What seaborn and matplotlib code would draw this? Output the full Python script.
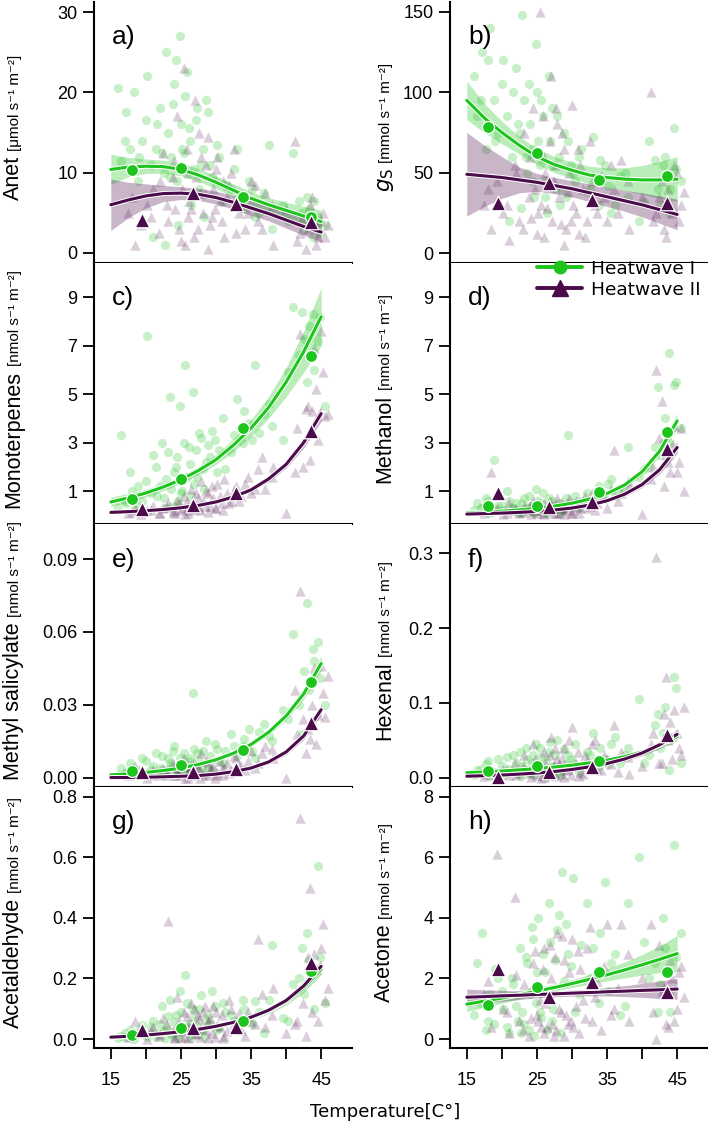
import matplotlib
matplotlib.use("Agg")
import matplotlib.pyplot as plt
import matplotlib.patheffects as pe
from matplotlib.lines import Line2D
import seaborn as sns

# leaf temperatures of the individual measurements (two batches per heatwave)
temp_hw1 = [16.0, 16.5, 17.2, 17.8, 18.3, 18.9, 19.5, 20.2, 21.0, 21.6, 22.3, 22.9, 23.4, 23.9, 24.3, 24.8, 25.2, 25.6, 26.1, 26.7,
            27.3, 27.9, 28.6, 29.4, 30.2, 31.0, 32.1, 33.0, 33.8, 34.7, 35.6, 36.8, 38.0, 39.5, 41.0, 42.2, 43.0, 43.8, 44.6, 45.5]
temp_hw2 = [17.5, 18.5, 19.3, 20.2, 21.0, 21.8, 22.5, 23.2, 23.8, 24.4, 25.0, 25.5, 26.0, 26.5, 27.0, 27.4, 27.9, 28.4, 28.9, 29.4,
            30.0, 30.6, 31.2, 31.9, 32.6, 33.3, 34.2, 35.0, 36.0, 37.0, 38.2, 40.0, 41.2, 42.0, 42.8, 43.4, 44.0, 44.6, 45.2, 46.0]
temp_hw1_b = [17.0, 18.0, 19.0, 20.0, 20.8, 21.4, 22.0, 22.6, 23.1, 23.6, 24.0, 24.5, 25.0, 25.4, 25.8, 26.3, 26.8, 27.1, 27.6, 28.1,
              28.8, 29.2, 29.8, 30.5, 31.3, 32.5, 34.0, 35.2, 36.2, 37.5, 40.2, 41.8, 42.6, 43.3, 44.0, 44.9, 22.7, 24.6, 26.4, 28.3]
temp_hw2_b = [18.0, 20.8, 22.0, 23.0, 24.0, 24.7, 25.2, 25.8, 26.2, 26.8, 27.2, 27.6, 28.1, 28.6, 29.1, 29.6, 30.2, 30.8, 31.5, 32.2,
              32.9, 33.6, 34.6, 35.5, 36.5, 38.0, 41.5, 42.4, 43.1, 43.7, 44.3, 45.0, 45.6, 26.0, 27.7, 28.8, 29.9, 31.0, 25.6, 24.2]

# measured values
anet_hw1 = [20.5, 11.5, 17.5, 13.0, 20.0, 9.0, 14.0, 22.0, 2.0, 16.0, 12.5, 25.0, 9.5, 18.5, 24.0, 27.0, 13.0, 19.5, 15.5, 7.0,
            18.0, 11.0, 19.0, 9.5, 13.5, 6.5, 8.0, 13.0, 5.5, 9.0, 4.5, 7.5, 3.0, 6.0, 12.5, 5.0, 7.0, 2.0, 4.5, 3.5]
anet_hw1_b = [14.0, 10.5, 12.0, 16.5, 11.0, 13.0, 18.0, 10.0, 15.0, 12.0, 21.0, 9.0, 16.0, 12.5, 22.5, 14.0, 10.5, 16.5, 8.0, 13.0,
              17.5, 11.0, 9.0, 12.0, 8.5, 10.5, 6.0, 8.0, 5.0, 13.5, 4.0, 6.5, 3.0, 5.5, 6.5, 2.5, 1.0, 3.5, 6.0, 4.5]
anet_hw2 = [5.0, 1.0, 3.5, 6.0, 8.0, 2.5, 12.5, 4.0, 9.5, 17.0, 1.5, 23.0, 10.0, 5.5, 19.0, 3.0, 12.0, 7.5, 14.5, 4.5,
            10.5, 6.5, 2.0, 8.5, 13.0, 5.0, 3.0, 9.0, 4.0, 7.5, 1.0, 5.5, 14.0, 2.5, 0.5, 6.0, 4.0, 2.0, 5.0, 3.5]
anet_hw2_b = [7.0, 4.5, 9.0, 6.0, 11.5, 3.0, 8.0, 13.0, 6.5, 2.0, 9.5, 15.0, 5.0, 11.0, 3.5, 8.0, 12.0, 4.0, 7.0, 10.0,
              2.5, 6.5, 5.0, 8.5, 3.0, 6.0, 1.5, 4.5, 3.0, 7.0, 1.0, 4.0, 2.0, 4.5, 7.5, 0.5, 5.5, 9.0, 1.0, 5.5]
gs_hw1 = [110, 85, 125, 65, 140, 95, 75, 120, 20, 100, 80, 148, 60, 105, 45, 130, 70, 95, 35, 110,
          55, 85, 40, 70, 50, 60, 38, 72, 30, 55, 25, 48, 35, 20, 70, 40, 55, 25, 78, 45]
gs_hw1_b = [95, 120, 70, 105, 85, 60, 115, 75, 95, 50, 80, 65, 100, 55, 85, 45, 70, 90, 40, 60,
            75, 35, 55, 45, 65, 40, 58, 42, 30, 50, 32, 58, 30, 60, 40, 52, 28, 35, 25, 30]
gs_hw2 = [30, 15, 45, 25, 8, 55, 20, 75, 35, 90, 12, 150, 60, 28, 110, 45, 80, 18, 65, 38,
          92, 25, 55, 10, 70, 30, 48, 20, 40, 58, 15, 35, 100, 25, 45, 10, 30, 55, 20, 38]
gs_hw2_b = [40, 30, 50, 15, 60, 40, 25, 85, 50, 70, 20, 55, 35, 75, 15, 50, 30, 65, 40, 20,
            45, 25, 35, 55, 25, 45, 20, 35, 15, 40, 25, 50, 30, 10, 90, 5, 20, 12, 30, 22]
mono_hw1 = [0.3, 3.3, 0.5, 1.8, 0.2, 1.2, 0.6, 7.4, 2.5, 0.8, 3.0, 1.5, 4.9, 0.4, 2.0, 4.5, 1.0, 6.2, 2.8, 5.1,
            1.6, 3.2, 2.2, 3.5, 1.8, 4.0, 2.6, 4.8, 3.0, 3.8, 6.2, 4.2, 3.7, 3.1, 8.6, 8.4, 5.5, 8.3, 7.2, 4.5]
mono_hw1_b = [0.6, 1.0, 0.4, 1.4, 0.9, 2.0, 1.2, 0.7, 2.6, 1.1, 1.8, 2.4, 0.9, 3.0, 1.6, 2.1, 1.3, 2.7, 3.4, 1.9,
              2.9, 2.4, 3.1, 2.7, 1.9, 3.3, 4.3, 3.1, 3.4, 4.6, 5.9, 6.6, 7.3, 7.8, 6.0, 8.2, 0.3, 0.6, 0.8, 1.1]
mono_hw2 = [0.1, 0.3, 0.05, 0.2, 0.4, 0.1, 0.3, 0.5, 0.15, 0.6, 0.2, 0.8, 0.35, 1.1, 0.25, 0.7, 1.4, 0.4, 0.9, 1.2,
            0.3, 0.8, 1.5, 0.5, 1.0, 0.6, 1.3, 0.9, 1.9, 1.1, 2.0, 0.1, 1.8, 7.5, 4.4, 2.3, 6.9, 3.1, 5.9, 4.2]
mono_hw2_b = [0.15, 0.2, 0.1, 0.35, 0.2, 0.5, 0.3, 0.6, 0.2, 0.5, 0.9, 0.3, 0.6, 1.0, 0.4, 0.7, 1.3, 0.5, 0.9, 0.6,
              1.2, 0.8, 1.6, 1.1, 2.4, 1.6, 3.6, 2.0, 4.5, 4.3, 5.2, 7.6, 4.1, 0.1, 0.2, 0.15, 0.3, 0.2, 0.05, 0.1]
meth_hw1 = [0.2, 0.5, 0.3, 0.7, 0.1, 2.3, 0.4, 0.2, 0.6, 0.3, 0.1, 0.5, 0.2, 0.8, 0.3, 1.1, 0.2, 0.5, 0.1, 0.7,
            0.3, 0.4, 0.2, 3.3, 0.5, 0.3, 0.9, 0.6, 1.2, 0.7, 1.5, 1.0, 2.8, 1.6, 2.0, 5.3, 3.0, 6.7, 5.4, 3.6]
meth_hw1_b = [0.3, 0.6, 0.2, 0.4, 1.0, 0.3, 0.5, 0.2, 0.7, 0.3, 0.4, 0.15, 0.6, 0.3, 0.9, 0.2, 0.4, 0.6, 0.25, 0.5,
              0.3, 0.7, 0.4, 0.8, 0.6, 0.5, 0.9, 1.3, 0.8, 1.1, 1.9, 2.8, 2.5, 4.0, 3.0, 5.5, 0.1, 0.1, 0.1, 0.1]
meth_hw2 = [0.1, 1.8, 0.3, 0.05, 0.5, 0.2, 0.1, 0.4, 0.2, 0.6, 0.1, 0.3, 0.5, 0.2, 0.4, 0.1, 0.7, 0.3, 0.2, 0.5,
            0.1, 0.6, 0.3, 0.8, 0.4, 0.2, 0.7, 0.3, 2.7, 0.9, 1.2, 0.05, 1.5, 6.0, 4.7, 2.5, 1.8, 3.7, 2.2, 1.0]
meth_hw2_b = [0.2, 0.1, 0.3, 0.15, 0.4, 0.2, 0.5, 0.1, 0.3, 0.6, 0.2, 0.4, 0.1, 0.5, 0.3, 0.7, 0.2, 0.4, 0.6, 0.3,
              0.9, 0.5, 0.8, 1.1, 0.6, 1.4, 2.0, 3.2, 1.2, 2.2, 2.9, 1.8, 3.6, 0.05, 0.1, 0.05, 0.1, 0.1, 0.2, 0.05]
mesa_hw1 = [0.001, 0.004, 0.002, 0.006, 0.001, 0.003, 0.008, 0.002, 0.005, 0.001, 0.009, 0.003, 0.006, 0.011, 0.002, 0.008,
            0.004, 0.004, 0.007, 0.035, 0.010, 0.005, 0.015, 0.003, 0.012, 0.006, 0.018, 0.009, 0.013, 0.020, 0.008, 0.022,
            0.015, 0.028, 0.059, 0.018, 0.072, 0.053, 0.056, 0.030]
mesa_hw1_b = [0.002, 0.004, 0.001, 0.007, 0.003, 0.010, 0.004, 0.002, 0.008, 0.005, 0.013, 0.003, 0.006, 0.010, 0.002, 0.008,
              0.012, 0.004, 0.007, 0.011, 0.005, 0.009, 0.014, 0.007, 0.011, 0.013, 0.016, 0.011, 0.019, 0.017, 0.024, 0.030,
              0.044, 0.036, 0.048, 0.041, 0.001, 0.001, 0.002, 0.002]
mesa_hw2 = [0.001, 0.005, 0.002, 0.0, 0.003, 0.001, 0.004, 0.002, 0.006, 0.001, 0.003, 0.008, 0.002, 0.005, 0.001, 0.004,
            0.010, 0.002, 0.006, 0.003, 0.001, 0.007, 0.004, 0.002, 0.009, 0.005, 0.003, 0.011, 0.006, 0.013, 0.008, 0.0,
            0.036, 0.077, 0.010, 0.016, 0.045, 0.026, 0.035, 0.042]
mesa_hw2_b = [0.002, 0.001, 0.003, 0.001, 0.004, 0.002, 0.005, 0.001, 0.003, 0.006, 0.002, 0.004, 0.001, 0.007, 0.003, 0.005,
              0.002, 0.004, 0.006, 0.003, 0.008, 0.005, 0.007, 0.004, 0.010, 0.012, 0.018, 0.024, 0.020, 0.030, 0.014, 0.046,
              0.025, 0.0, 0.0, 0.001, 0.0, 0.001, 0.0, 0.001]
hex_hw1 = [0.003, 0.010, 0.005, 0.018, 0.002, 0.008, 0.025, 0.004, 0.012, 0.030, 0.006, 0.015, 0.040, 0.008, 0.020, 0.045,
           0.010, 0.028, 0.005, 0.035, 0.015, 0.050, 0.012, 0.030, 0.020, 0.008, 0.035, 0.060, 0.015, 0.025, 0.045, 0.020,
           0.040, 0.105, 0.030, 0.085, 0.060, 0.010, 0.135, 0.020]
hex_hw1_b = [0.012, 0.022, 0.006, 0.016, 0.028, 0.009, 0.020, 0.035, 0.012, 0.025, 0.006, 0.030, 0.018, 0.040, 0.010, 0.022,
             0.048, 0.014, 0.030, 0.008, 0.038, 0.018, 0.025, 0.045, 0.015, 0.030, 0.040, 0.018, 0.055, 0.030, 0.020, 0.070,
             0.040, 0.095, 0.050, 0.120, 0.002, 0.003, 0.001, 0.004]
hex_hw2 = [0.002, 0.008, 0.001, 0.012, 0.004, 0.020, 0.006, 0.030, 0.010, 0.045, 0.003, 0.018, 0.035, 0.008, 0.055, 0.015,
           0.025, 0.005, 0.040, 0.012, 0.068, 0.020, 0.008, 0.030, 0.015, 0.050, 0.010, 0.025, 0.070, 0.035, 0.005, 0.015,
           0.045, 0.295, 0.020, 0.135, 0.075, 0.090, 0.040, 0.095]
hex_hw2_b = [0.005, 0.010, 0.003, 0.015, 0.006, 0.025, 0.012, 0.004, 0.020, 0.030, 0.008, 0.040, 0.018, 0.026, 0.010, 0.050,
             0.015, 0.035, 0.005, 0.022, 0.045, 0.012, 0.030, 0.018, 0.008, 0.028, 0.060, 0.020, 0.085, 0.050, 0.025, 0.060,
             0.030, 0.001, 0.002, 0.001, 0.003, 0.002, 0.0, 0.001]
acal_hw1 = [0.002, 0.010, 0.005, 0.030, 0.001, 0.015, 0.045, 0.008, 0.060, 0.020, 0.110, 0.035, 0.130, 0.010, 0.080, 0.160,
            0.025, 0.210, 0.050, 0.100, 0.015, 0.145, 0.060, 0.160, 0.030, 0.120, 0.080, 0.040, 0.130, 0.070, 0.125, 0.020,
            0.310, 0.070, 0.180, 0.300, 0.350, 0.230, 0.570, 0.120]
acal_hw1_b = [0.020, 0.005, 0.030, 0.012, 0.040, 0.008, 0.050, 0.025, 0.075, 0.015, 0.055, 0.030, 0.090, 0.040, 0.120, 0.020,
              0.070, 0.045, 0.100, 0.030, 0.080, 0.050, 0.110, 0.040, 0.090, 0.060, 0.100, 0.050, 0.090, 0.130, 0.060, 0.200,
              0.150, 0.260, 0.100, 0.270, 0.003, 0.004, 0.002, 0.006]
acal_hw2 = [0.005, 0.060, 0.020, 0.001, 0.040, 0.010, 0.070, 0.390, 0.025, 0.140, 0.005, 0.090, 0.045, 0.120, 0.015, 0.080,
            0.035, 0.110, 0.060, 0.020, 0.090, 0.040, 0.010, 0.130, 0.050, 0.085, 0.010, 0.060, 0.330, 0.040, 0.170, 0.020,
            0.050, 0.730, 0.010, 0.500, 0.280, 0.060, 0.380, 0.170]
acal_hw2_b = [0.010, 0.030, 0.015, 0.050, 0.008, 0.060, 0.025, 0.075, 0.040, 0.100, 0.020, 0.065, 0.090, 0.030, 0.070, 0.110,
              0.045, 0.080, 0.025, 0.100, 0.060, 0.030, 0.090, 0.050, 0.150, 0.080, 0.060, 0.120, 0.270, 0.090, 0.230, 0.300,
              0.130, 0.002, 0.005, 0.003, 0.008, 0.004, 0.006, 0.003]
acet_hw1 = [0.8, 2.5, 3.5, 0.3, 1.5, 0.5, 2.0, 1.0, 0.2, 1.8, 0.6, 0.9, 2.7, 0.3, 3.7, 1.2, 4.0, 0.7, 2.2, 4.5,
            1.0, 3.6, 5.5, 2.8, 5.3, 1.5, 4.5, 3.0, 1.2, 5.2, 2.5, 0.8, 4.5, 6.0, 2.0, 0.9, 4.0, 1.5, 6.4, 3.5]
acet_hw1_b = [1.2, 0.6, 2.3, 1.6, 0.4, 2.0, 1.1, 3.0, 0.5, 2.5, 1.5, 3.3, 2.2, 0.9, 2.8, 1.6, 3.2, 0.6, 2.6, 4.1,
              1.9, 3.8, 2.4, 0.9, 3.1, 2.0, 3.5, 1.6, 2.8, 1.1, 3.2, 2.5, 1.8, 3.0, 0.9, 2.7, 0.2, 0.1, 0.3, 0.2]
acet_hw2 = [1.5, 0.4, 6.1, 1.0, 0.2, 4.7, 0.6, 1.8, 0.1, 2.5, 0.8, 1.3, 3.0, 0.4, 2.0, 0.1, 3.5, 0.9, 2.6, 0.5,
            3.3, 1.1, 2.3, 0.7, 3.7, 1.4, 0.3, 3.8, 1.0, 3.8, 0.6, 2.0, 3.8, 0.0, 1.6, 0.5, 2.6, 0.6, 2.2, 1.4]
acet_hw2_b = [1.9, 0.9, 2.1, 0.3, 1.6, 2.9, 0.6, 2.3, 1.2, 3.1, 0.5, 2.7, 1.0, 3.4, 0.8, 2.2, 0.4, 2.9, 1.3, 3.0,
              0.6, 1.9, 2.4, 0.8, 1.7, 2.8, 0.9, 3.1, 1.7, 0.4, 2.0, 1.0, 2.4, 0.2, 0.3, 0.1, 0.6, 0.2, 0.4, 0.7]

# means per temperature class
mean_temp_hw1 = [18.0, 25.0, 33.8, 43.5]
mean_temp_hw2 = [19.5, 26.7, 32.8, 43.5]
anet_mean_hw1 = [10.3, 10.6, 7.0, 4.5]
anet_mean_hw2 = [4.1, 7.5, 6.1, 3.9]
gs_mean_hw1 = [78.4, 62.4, 45.2, 47.9]
gs_mean_hw2 = [30.9, 43.7, 33.0, 31.3]
mono_mean_hw1 = [0.66, 1.5, 3.6, 6.59]
mono_mean_hw2 = [0.24, 0.43, 0.93, 3.47]
meth_mean_hw1 = [0.39, 0.39, 0.96, 3.42]
meth_mean_hw2 = [0.93, 0.33, 0.53, 2.73]
mesa_mean_hw1 = [0.0028, 0.0052, 0.0114, 0.0395]
mesa_mean_hw2 = [0.0025, 0.0025, 0.0036, 0.0224]
hex_mean_hw1 = [0.0094, 0.016, 0.0227, 0.055]
hex_mean_hw2 = [0.001, 0.008, 0.014, 0.057]
acal_mean_hw1 = [0.0132, 0.037, 0.059, 0.225]
acal_mean_hw2 = [0.030, 0.037, 0.041, 0.25]
acet_mean_hw1 = [1.12, 1.71, 2.22, 2.22]
acet_mean_hw2 = [2.30, 1.40, 1.89, 1.54]

# fitted curves and confidence half widths
fit_temp = [15, 17.5, 20, 22.5, 25, 27.5, 30, 32.5, 35, 37.5, 40, 42.5, 45]
anet_fit_hw1 = [10.4, 10.7, 10.8, 10.75, 10.4, 9.7, 8.8, 7.8, 6.8, 6.0, 5.3, 4.6, 3.9]
anet_ci_hw1 = [1.9, 1.2, 0.9, 0.8, 0.8, 0.8, 0.8, 0.8, 0.8, 0.9, 1.0, 1.2, 1.4]
anet_fit_hw2 = [6.0, 6.6, 7.1, 7.4, 7.45, 7.3, 6.9, 6.3, 5.6, 4.9, 4.1, 3.3, 2.6]
anet_ci_hw2 = [3.2, 2.2, 1.5, 1.0, 0.8, 0.75, 0.8, 0.85, 0.9, 0.9, 1.0, 1.1, 1.2]
gs_fit_hw1 = [95, 84, 75, 67, 60, 55, 51.5, 48.5, 47, 46, 45.5, 45.5, 46]
gs_ci_hw1 = [12, 9, 7, 5.5, 5, 5, 5, 5.5, 6, 7, 9, 11.5, 14]
gs_fit_hw2 = [49, 48, 47, 45.5, 44, 42, 40, 37.5, 35, 32.5, 30, 27, 24]
gs_ci_hw2 = [26, 19, 13, 8, 5.5, 5, 5, 5.5, 6, 6.5, 7.5, 8.5, 9.5]
mono_fit_hw1 = [0.55, 0.72, 0.92, 1.17, 1.47, 1.85, 2.3, 2.9, 3.6, 4.45, 5.5, 6.75, 8.2]
mono_ci_hw1 = [0.2, 0.18, 0.16, 0.15, 0.15, 0.17, 0.2, 0.27, 0.35, 0.45, 0.6, 0.85, 1.2]
mono_fit_hw2 = [0.12, 0.15, 0.19, 0.24, 0.31, 0.41, 0.55, 0.76, 1.05, 1.5, 2.1, 3.0, 4.2]
mono_ci_hw2 = [0.03, 0.03, 0.03, 0.03, 0.03, 0.04, 0.05, 0.06, 0.08, 0.11, 0.15, 0.22, 0.32]
meth_fit_hw1 = [0.1, 0.13, 0.17, 0.22, 0.29, 0.38, 0.5, 0.67, 0.9, 1.25, 1.8, 2.65, 3.9]
meth_ci_hw1 = [0.05, 0.05, 0.05, 0.05, 0.05, 0.05, 0.06, 0.07, 0.09, 0.12, 0.16, 0.22, 0.3]
meth_fit_hw2 = [0.05, 0.07, 0.09, 0.12, 0.16, 0.22, 0.3, 0.42, 0.6, 0.87, 1.27, 1.88, 2.8]
meth_ci_hw2 = [0.04, 0.04, 0.04, 0.04, 0.04, 0.04, 0.05, 0.06, 0.07, 0.09, 0.12, 0.17, 0.25]
mesa_fit_hw1 = [0.0012, 0.0016, 0.0022, 0.003, 0.004, 0.0055, 0.0074, 0.0101, 0.0137, 0.0187, 0.0254, 0.0345, 0.047]
mesa_ci_hw1 = [0.0006, 0.0005, 0.0005, 0.0005, 0.0005, 0.0005, 0.0006, 0.0007, 0.0009, 0.0012, 0.0016, 0.0022, 0.003]
mesa_fit_hw2 = [0.0001, 0.0001, 0.0002, 0.0004, 0.0006, 0.0009, 0.0015, 0.0025, 0.004, 0.0065, 0.0106, 0.0172, 0.028]
mesa_ci_hw2 = [0.0004, 0.0004, 0.0004, 0.0004, 0.0004, 0.0004, 0.0004, 0.0005, 0.0006, 0.0008, 0.0011, 0.0015, 0.0021]
hex_fit_hw1 = [0.0067, 0.0078, 0.009, 0.0105, 0.0122, 0.0143, 0.0168, 0.0198, 0.0235, 0.0282, 0.0345, 0.043, 0.055]
hex_ci_hw1 = [0.002, 0.002, 0.0018, 0.0016, 0.0015, 0.0015, 0.0016, 0.0018, 0.002, 0.0025, 0.0032, 0.0042, 0.0055]
hex_fit_hw2 = [0.002, 0.0027, 0.0036, 0.0048, 0.0063, 0.0083, 0.011, 0.0145, 0.019, 0.025, 0.033, 0.044, 0.058]
hex_ci_hw2 = [0.0015, 0.0015, 0.0015, 0.0015, 0.0015, 0.0016, 0.0018, 0.002, 0.0025, 0.003, 0.0038, 0.0048, 0.006]
acal_fit_hw1 = [0.005, 0.008, 0.011, 0.016, 0.022, 0.03, 0.04, 0.053, 0.07, 0.092, 0.123, 0.168, 0.23]
acal_ci_hw1 = [0.004, 0.004, 0.004, 0.004, 0.004, 0.004, 0.005, 0.006, 0.007, 0.009, 0.011, 0.014, 0.018]
acal_fit_hw2 = [0.006, 0.009, 0.013, 0.018, 0.024, 0.032, 0.042, 0.055, 0.072, 0.095, 0.127, 0.175, 0.24]
acal_ci_hw2 = [0.004, 0.004, 0.004, 0.004, 0.004, 0.004, 0.005, 0.006, 0.007, 0.009, 0.012, 0.016, 0.021]
acet_fit_hw1 = [1.15, 1.25, 1.35, 1.46, 1.58, 1.7, 1.83, 1.97, 2.12, 2.28, 2.45, 2.63, 2.82]
acet_ci_hw1 = [0.25, 0.2, 0.17, 0.14, 0.12, 0.12, 0.13, 0.16, 0.2, 0.26, 0.34, 0.44, 0.6]
acet_fit_hw2 = [1.38, 1.40, 1.425, 1.445, 1.47, 1.49, 1.515, 1.535, 1.56, 1.58, 1.605, 1.625, 1.65]
acet_ci_hw2 = [0.27, 0.22, 0.18, 0.14, 0.11, 0.1, 0.1, 0.11, 0.14, 0.18, 0.23, 0.29, 0.35]

# axis ticks
anet_ticks = [0, 10, 20, 30]
gs_ticks = [0, 50, 100, 150]
voc_ticks = [1, 3, 5, 7, 9]
mesa_ticks = [0.0, 0.03, 0.06, 0.09]
hex_ticks = [0.0, 0.1, 0.2, 0.3]
acal_ticks = [0.0, 0.2, 0.4, 0.6, 0.8]
acet_ticks = [0, 2, 4, 6, 8]
temp_ticks = [15, 20, 25, 30, 35, 40, 45]
temp_labels = ['15', '', '25', '', '35', '', '45']

GREEN = '#1cc41c'
PURPLE = '#4b0b4b'
W, H = 708, 1123

sns.set_style('ticks')
plt.rcParams['font.family'] = ['Liberation Sans', 'DejaVu Sans']
plt.rcParams['mathtext.fontset'] = 'dejavusans'
for key in ['text.color', 'axes.labelcolor', 'xtick.color', 'ytick.color', 'axes.edgecolor']:
    plt.rcParams[key] = 'black'

unit_txt = '[nmol s\u207b\u00b9 m\u207b\u00b2]'
panels = [
    ('a)', 'Anet', '[\u03bcmol s\u207b\u00b9 m\u207b\u00b2]', anet_hw1 + anet_hw1_b, anet_hw2 + anet_hw2_b,
     anet_mean_hw1, anet_mean_hw2, anet_fit_hw1, anet_ci_hw1, anet_fit_hw2, anet_ci_hw2, anet_ticks, '{:g}', (-1.25, 31.25)),
    ('b)', r'$g_{\mathrm{S}}$', '[mmol s\u207b\u00b9 m\u207b\u00b2]', gs_hw1 + gs_hw1_b, gs_hw2 + gs_hw2_b,
     gs_mean_hw1, gs_mean_hw2, gs_fit_hw1, gs_ci_hw1, gs_fit_hw2, gs_ci_hw2, gs_ticks, '{:g}', (-6.2, 156.2)),
    ('c)', 'Monoterpenes', unit_txt, mono_hw1 + mono_hw1_b, mono_hw2 + mono_hw2_b,
     mono_mean_hw1, mono_mean_hw2, mono_fit_hw1, mono_ci_hw1, mono_fit_hw2, mono_ci_hw2, voc_ticks, '{:g}', (-0.36, 10.42)),
    ('d)', 'Methanol', unit_txt, meth_hw1 + meth_hw1_b, meth_hw2 + meth_hw2_b,
     meth_mean_hw1, meth_mean_hw2, meth_fit_hw1, meth_ci_hw1, meth_fit_hw2, meth_ci_hw2, voc_ticks, '{:g}', (-0.36, 10.42)),
    ('e)', 'Methyl salicylate', unit_txt, mesa_hw1 + mesa_hw1_b, mesa_hw2 + mesa_hw2_b,
     mesa_mean_hw1, mesa_mean_hw2, mesa_fit_hw1, mesa_ci_hw1, mesa_fit_hw2, mesa_ci_hw2, mesa_ticks, '{:.2f}', (-0.0038, 0.1044)),
    ('f)', 'Hexenal', unit_txt, hex_hw1 + hex_hw1_b, hex_hw2 + hex_hw2_b,
     hex_mean_hw1, hex_mean_hw2, hex_fit_hw1, hex_ci_hw1, hex_fit_hw2, hex_ci_hw2, hex_ticks, '{:.1f}', (-0.0124, 0.339)),
    ('g)', 'Acetaldehyde', unit_txt, acal_hw1 + acal_hw1_b, acal_hw2 + acal_hw2_b,
     acal_mean_hw1, acal_mean_hw2, acal_fit_hw1, acal_ci_hw1, acal_fit_hw2, acal_ci_hw2, acal_ticks, '{:.1f}', (-0.0297, 0.832)),
    ('h)', 'Acetone', unit_txt, acet_hw1 + acet_hw1_b, acet_hw2 + acet_hw2_b,
     acet_mean_hw1, acet_mean_hw2, acet_fit_hw1, acet_ci_hw1, acet_fit_hw2, acet_ci_hw2, acet_ticks, '{:g}', (-0.297, 8.32)),
]
x_hw1 = temp_hw1 + temp_hw1_b
x_hw2 = temp_hw2 + temp_hw2_b

fig = plt.figure(figsize=(W / 100, H / 100), dpi=100)
renderer = fig.canvas.get_renderer()

# axes boxes in pixels
col_x = [(94, 352), (450, 708)]
row_y = [(2, 263), (263, 524), (524, 787), (787, 1048)]
label_x = [19, 390]

outline = [pe.Stroke(linewidth=3.6, foreground='white'), pe.Normal()]

for i, p in enumerate(panels):
    (tag, main, unit, y1, y2, m1, m2, f1, c1, f2, c2, ticks, fmt, ylim) = p
    r, c = divmod(i, 2)
    x0, x1 = col_x[c]
    top, bot = row_y[r]
    ax = fig.add_axes([x0 / W, 1 - bot / H, (x1 - x0) / W, (bot - top) / H])

    # raw points
    sns.scatterplot(x=x_hw1, y=y1, ax=ax, color=GREEN, alpha=0.24, s=44, linewidth=0, marker='o', zorder=2)
    sns.scatterplot(x=x_hw2, y=y2, ax=ax, color=PURPLE, alpha=0.2, s=56, linewidth=0, marker='^', zorder=2)

    # confidence bands
    ax.fill_between(fit_temp, [a - b for a, b in zip(f1, c1)], [a + b for a, b in zip(f1, c1)],
                    color=GREEN, alpha=0.3, lw=0, zorder=3)
    ax.fill_between(fit_temp, [a - b for a, b in zip(f2, c2)], [a + b for a, b in zip(f2, c2)],
                    color=PURPLE, alpha=0.3, lw=0, zorder=3)

    # fitted curves
    sns.lineplot(x=fit_temp, y=f1, ax=ax, color=GREEN, lw=2.2, zorder=4, path_effects=outline)
    sns.lineplot(x=fit_temp, y=f2, ax=ax, color=PURPLE, lw=2.2, zorder=4, path_effects=outline)

    # class means
    sns.scatterplot(x=mean_temp_hw1, y=m1, ax=ax, color=GREEN, s=75, marker='o', edgecolor='white',
                    linewidth=0.9, zorder=5)
    sns.scatterplot(x=mean_temp_hw2, y=m2, ax=ax, color=PURPLE, s=110, marker='^', edgecolor='white',
                    linewidth=0.9, zorder=5)

    ax.set_xlim(12.6, 49.4)
    ax.set_ylim(*ylim)
    ax.set_yticks(ticks)
    ax.set_yticklabels([fmt.format(t) for t in ticks])
    ax.set_xlabel('')
    ax.set_ylabel('')
    for s in ['top', 'right']:
        ax.spines[s].set_visible(False)
    for s in ['left', 'bottom']:
        ax.spines[s].set_linewidth(1.5)
    ax.tick_params(axis='y', length=8, width=1.3, labelsize=13, pad=4)
    ax.set_xticks(temp_ticks)
    if r == 3:
        ax.set_xticklabels(temp_labels)
        ax.tick_params(axis='x', length=8, width=1.3, labelsize=13, pad=9)
    else:
        ax.tick_params(axis='x', bottom=False, labelbottom=False)

    ax.text(0.07, 0.91, tag, transform=ax.transAxes, fontsize=19, ha='left', va='top')

    # y label: big name plus small unit, sharing one baseline
    cy = H - (top + bot) / 2 + 5
    t1 = fig.text(label_x[c] / W, 0, main, rotation=90, rotation_mode='anchor', ha='left', va='baseline',
                  fontsize=15.5)
    t2 = fig.text(label_x[c] / W, 0, unit, rotation=90, rotation_mode='anchor', ha='left', va='baseline',
                  fontsize=11)
    l1 = t1.get_window_extent(renderer).height
    l2 = t2.get_window_extent(renderer).height
    start = cy - (l1 + 5 + l2) / 2
    t1.set_y(start / H)
    t2.set_y((start + l1 + 5) / H)

    if tag == 'd)':
        handles = [Line2D([], [], color=GREEN, lw=2.8, marker='o', markersize=9),
                   Line2D([], [], color=PURPLE, lw=2.8, marker='^', markersize=11)]
        ax.legend(handles, ['Heatwave I', 'Heatwave II'], loc='upper right', bbox_to_anchor=(1.0, 1.04),
                  frameon=False, prop={'family': 'DejaVu Sans', 'size': 13.3}, handlelength=2.4,
                  handletextpad=0.5, labelspacing=0.15, borderaxespad=0)

fig.text(385 / W, 1 - 1112 / H, 'Temperature[C\u00b0]', family='DejaVu Sans', fontsize=13,
         ha='center', va='center')

fig.savefig('out.png', dpi=100)
